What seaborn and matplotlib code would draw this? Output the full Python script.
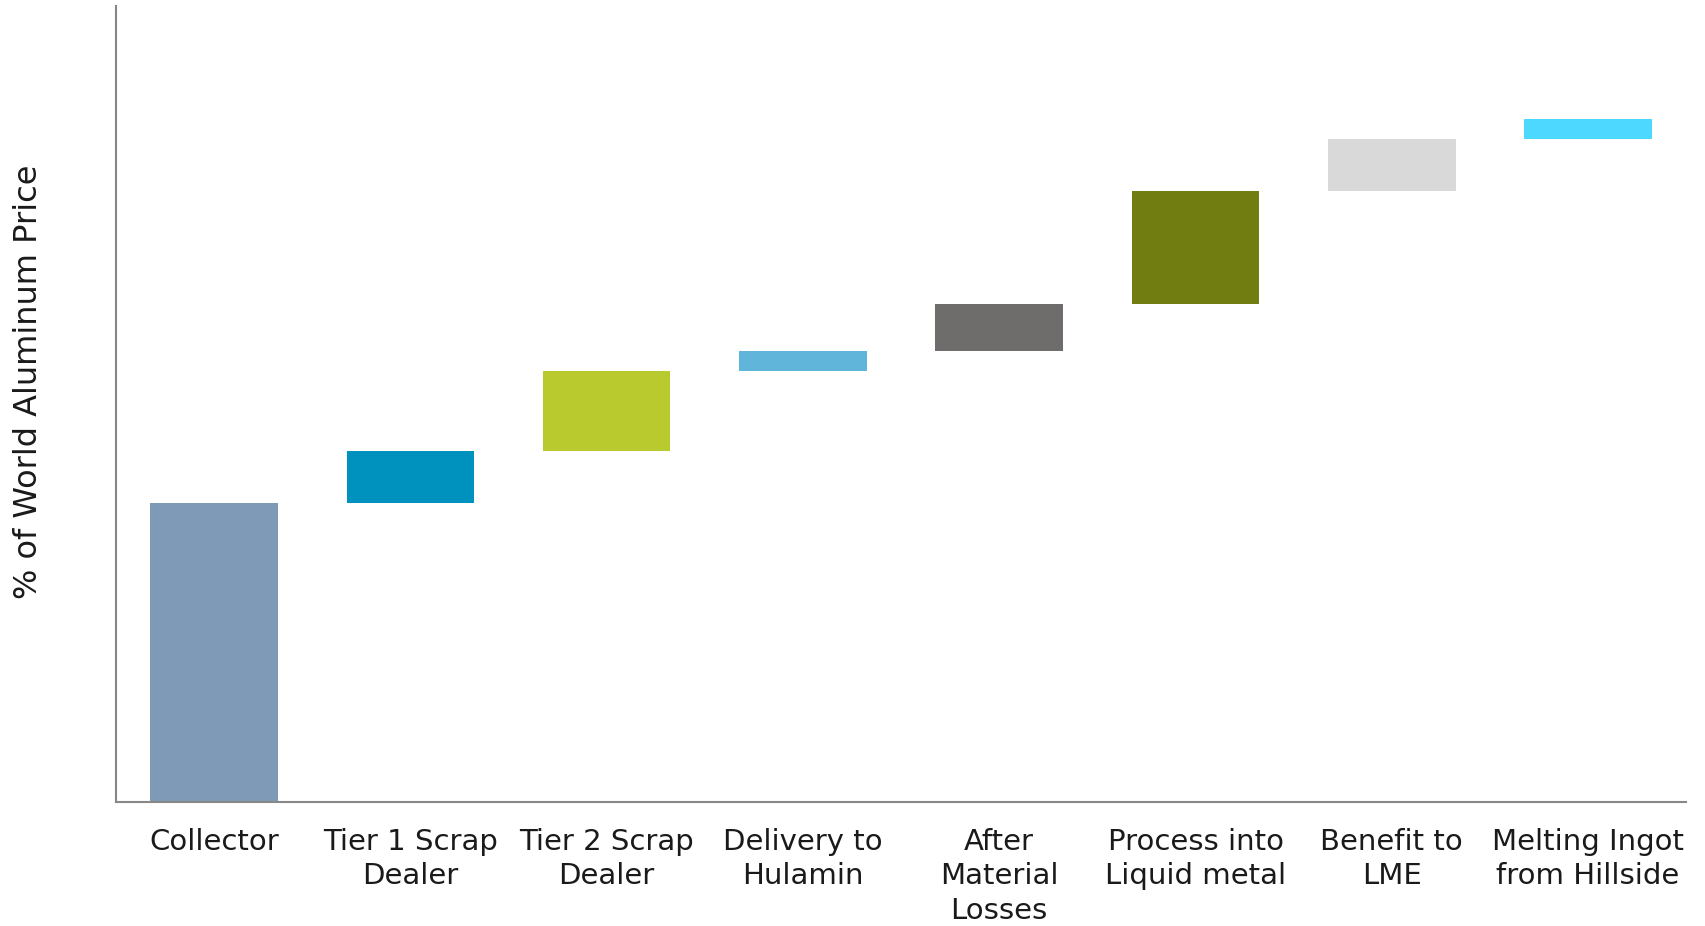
import matplotlib
matplotlib.use("Agg")
import matplotlib.pyplot as plt
import seaborn as sns
import numpy as np

# Price build-up stages along the aluminium scrap value chain
stages = [
    "Collector",
    "Tier 1 Scrap\nDealer",
    "Tier 2 Scrap\nDealer",
    "Delivery to\nHulamin",
    "After\nMaterial\nLosses",
    "Process into\nLiquid metal",
    "Benefit to\nLME",
    "Melting Ingot\nfrom Hillside",
]
# Increment added at each stage (% of world aluminium price)
increments = [37.6, 6.5, 10.0, 2.5, 5.9, 14.2, 6.6, 2.5]
colors = ["#7F9AB7", "#0092BE", "#B9CA2F", "#5FB5DA",
          "#6E6D6B", "#717D11", "#D9D9D9", "#4DD8FF"]

# Floating bars start where the previous cumulative total ended
bottoms = np.concatenate([[0.0], np.cumsum(increments)[:-1]])

sns.set_theme(style="white")
plt.rcParams["font.family"] = ["DejaVu Sans"]

fig = plt.figure(figsize=(17.06, 9.26), dpi=100)
ax = fig.add_axes([0.068, 0.134, 0.9204, 0.8595])

sns.barplot(x=stages, y=increments, hue=stages, palette=colors,
            width=0.65, saturation=1, legend=False, ax=ax)

# Lift each bar onto the running total to form the waterfall
bars = sorted(ax.patches, key=lambda p: p.get_x())
for bar, b in zip(bars, bottoms):
    bar.set_y(b)
    bar.set_linewidth(0)

ax.set_xlim(-0.5, 7.5)
ax.set_ylim(0, 100)
ax.set_yticks([])
ax.set_xlabel("")
ax.set_ylabel("% of World Aluminum Price", fontsize=23, color="#1a1a1a")
ax.yaxis.set_label_coords(-0.046, 0.528)

for side in ["top", "right"]:
    ax.spines[side].set_visible(False)
for side in ["left", "bottom"]:
    ax.spines[side].set_color("#888888")
    ax.spines[side].set_linewidth(1.5)

ax.tick_params(axis="x", length=0, pad=18.5, labelsize=21, colors="#1a1a1a")
for t in ax.get_xticklabels():
    t.set_linespacing(1.31)

fig.savefig("out.png", dpi=100, facecolor="white")
